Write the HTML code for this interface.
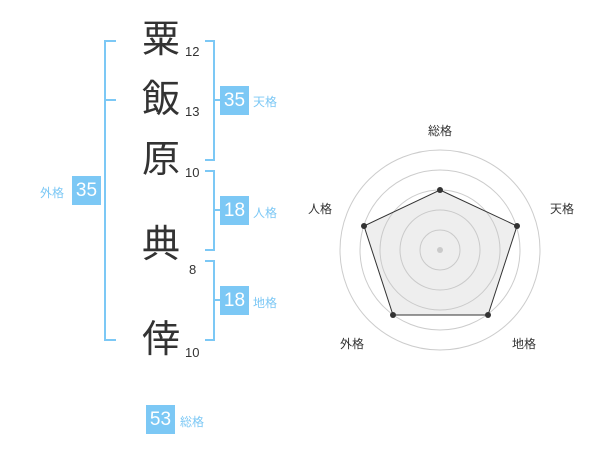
<!DOCTYPE html>
<html><head><meta charset="utf-8"><style>
body{margin:0;width:600px;height:470px;background:#fff;position:relative;font-family:"Liberation Sans","Noto Sans CJK JP",sans-serif;overflow:hidden}
.k{position:absolute;left:141px;width:40px;text-align:center;font-size:38px;line-height:40px;color:#333}
.n{position:absolute;font-size:13px;color:#333;line-height:14px}
.b{position:absolute;width:29px;height:29px;background:#7cc8f5;color:#fff;font-size:19px;line-height:29px;text-align:center}
.l{position:absolute;font-size:12px;color:#7cc8f5;line-height:14px}
.v{position:absolute;background:#7cc8f5}
</style></head><body>
<div class="k" style="top:20px">粟</div>
<div class="k" style="top:80px">飯</div>
<div class="k" style="top:140px">原</div>
<div class="k" style="top:225px">典</div>
<div class="k" style="top:320px">倖</div>
<div class="n" style="left:185px;top:45px">12</div>
<div class="n" style="left:185px;top:105px">13</div>
<div class="n" style="left:185px;top:166px">10</div>
<div class="n" style="left:189px;top:263px">8</div>
<div class="n" style="left:185px;top:346px">10</div>
<!-- left bracket -->
<div class="v" style="left:104px;top:40px;width:2px;height:301px"></div>
<div class="v" style="left:104px;top:40px;width:12px;height:2px"></div>
<div class="v" style="left:104px;top:99px;width:12px;height:2px"></div>
<div class="v" style="left:104px;top:339px;width:12px;height:2px"></div>
<!-- right brackets -->
<div class="v" style="left:213px;top:40px;width:2px;height:120px"></div>
<div class="v" style="left:205px;top:40px;width:10px;height:2px"></div>
<div class="v" style="left:205px;top:159px;width:10px;height:2px"></div>
<div class="v" style="left:213px;top:99px;width:8px;height:2px"></div>
<div class="v" style="left:213px;top:170px;width:2px;height:80px"></div>
<div class="v" style="left:205px;top:170px;width:10px;height:2px"></div>
<div class="v" style="left:205px;top:249px;width:10px;height:2px"></div>
<div class="v" style="left:213px;top:209px;width:8px;height:2px"></div>
<div class="v" style="left:213px;top:260px;width:2px;height:81px"></div>
<div class="v" style="left:205px;top:260px;width:10px;height:2px"></div>
<div class="v" style="left:205px;top:339px;width:10px;height:2px"></div>
<div class="v" style="left:213px;top:299px;width:8px;height:2px"></div>
<div class="b" style="left:220px;top:86px">35</div><div class="l" style="left:253px;top:95px">天格</div>
<div class="b" style="left:220px;top:196px">18</div><div class="l" style="left:253px;top:206px">人格</div>
<div class="b" style="left:220px;top:286px">18</div><div class="l" style="left:253px;top:296px">地格</div>
<div class="b" style="left:72px;top:176px">35</div><div class="l" style="left:40px;top:186px">外格</div>
<div class="b" style="left:146px;top:405px">53</div><div class="l" style="left:180px;top:415px">総格</div>
<svg style="position:absolute;left:0;top:0" width="600" height="470">
<g fill="none" stroke="#ccc" stroke-width="1">
<circle cx="440" cy="250" r="20"/><circle cx="440" cy="250" r="40"/><circle cx="440" cy="250" r="60"/><circle cx="440" cy="250" r="80"/><circle cx="440" cy="250" r="100"/>
</g>
<circle cx="440" cy="250" r="3" fill="#ccc"/>
<polygon points="440,190 517,226 488,315 393,315 364,226" fill="rgba(200,200,200,0.3)" stroke="#333" stroke-width="1"/>
<g fill="#333"><circle cx="440" cy="190" r="3"/><circle cx="517" cy="226" r="3"/><circle cx="488" cy="315" r="3"/><circle cx="393" cy="315" r="3"/><circle cx="364" cy="226" r="3"/></g>
<g font-size="12" fill="#333" text-anchor="middle" font-family="Liberation Sans,Noto Sans CJK JP,sans-serif">
<text x="440" y="135">総格</text><text x="562" y="213">天格</text><text x="524" y="348">地格</text><text x="352" y="348">外格</text><text x="320" y="213">人格</text>
</g></svg>
</body></html>
